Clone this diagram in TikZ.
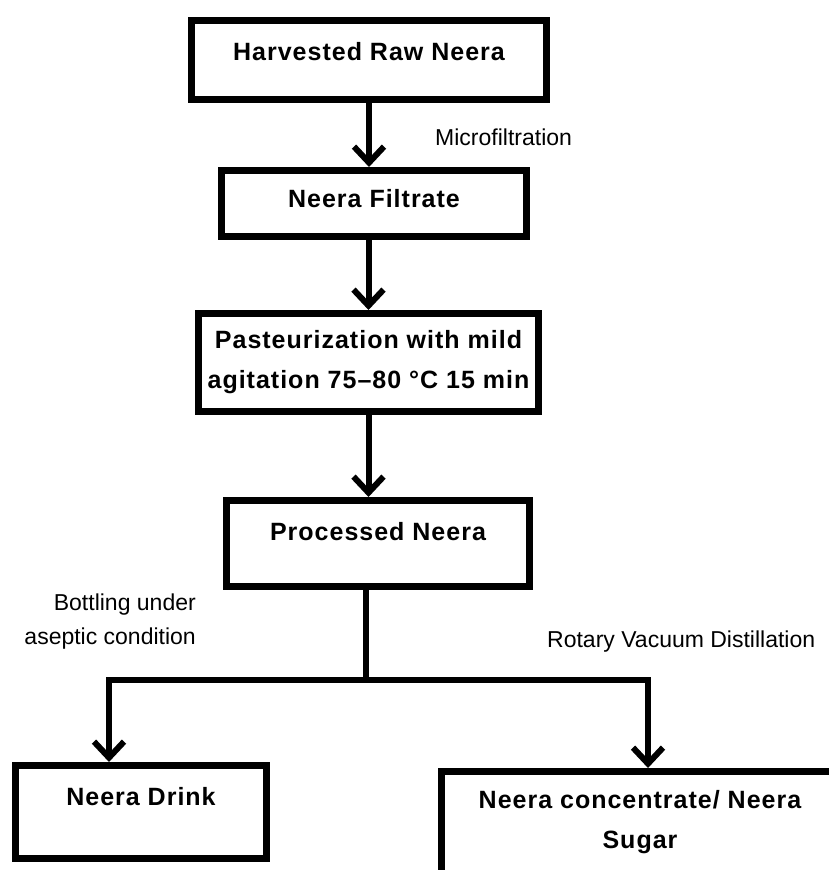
\documentclass[tikz,border=0pt]{standalone}
\usepackage{fontspec}
\setmainfont{Liberation Sans}
\newfontfamily\boxfont{Liberation Sans}[LetterSpace=4]
\usetikzlibrary{arrows.meta}

\begin{document}
\begin{tikzpicture}[x=1pt, y=-1pt, line join=miter, >={Straight Barb[length=16pt,width=30pt]},
    box/.style={draw, line width=7pt, inner sep=0pt, align=center, font=\boxfont\bfseries\fontsize{25}{40}\selectfont},
    lbl/.style={inner sep=0pt, font=\fontsize{23}{34}\selectfont},
    arr/.style={->, line width=6pt}]
    \useasboundingbox (0,0) rectangle (829,870);
    \clip (0,0) rectangle (829,870);
    % process steps
    \node[box, anchor=base, minimum width=355pt, text height=39.5pt, text depth=39.5pt] (raw) at (369,60) {Harvested Raw Neera};
    \node[box, anchor=base, minimum width=305pt, text height=36.5pt, text depth=29.5pt] (filt) at (374,207) {Neera Filtrate};
    \node[box, minimum width=340pt, minimum height=98pt] (past) at (368.5,362.5) {Pasteurization with mild\\agitation 75–80 °C 15 min};
    \node[box, anchor=base, minimum width=303pt, text height=39.5pt, text depth=46.5pt] (proc) at (378,540) {Processed Neera};
    \node[box, anchor=base, minimum width=251pt, text height=39.5pt, text depth=53.5pt] (drink) at (141,805) {Neera Drink};
    \node[box, anchor=base, minimum width=397pt, text height=76.5pt, text depth=60pt] (conc) at (640,848) {Neera concentrate/ Neera\\Sugar};
    % connectors
    \draw[arr] (raw.south) -- (raw.south |- filt.north);
    \draw[arr] (filt.south -| past.north) -- (past.north);
    \draw[arr] (past.south) -- (past.south |- proc.north);
    \coordinate (split) at (366,680);
    \coordinate (jl) at (109,680);
    \coordinate (jr) at (648,680);
    \draw[arr] (proc.south -| split) -- (split) -| (jl |- drink.north);
    \draw[arr] (split) -| (jr |- conc.north);
    % step labels
    \node[lbl, anchor=base west] (mf) at (435,145) {Microfiltration};
    \node[lbl, anchor=east, align=right] (bt) at (196,622) {Bottling under\\aseptic condition};
    \node[lbl, anchor=base west] (rv) at (547,647) {Rotary Vacuum Distillation};
\end{tikzpicture}
\end{document}
